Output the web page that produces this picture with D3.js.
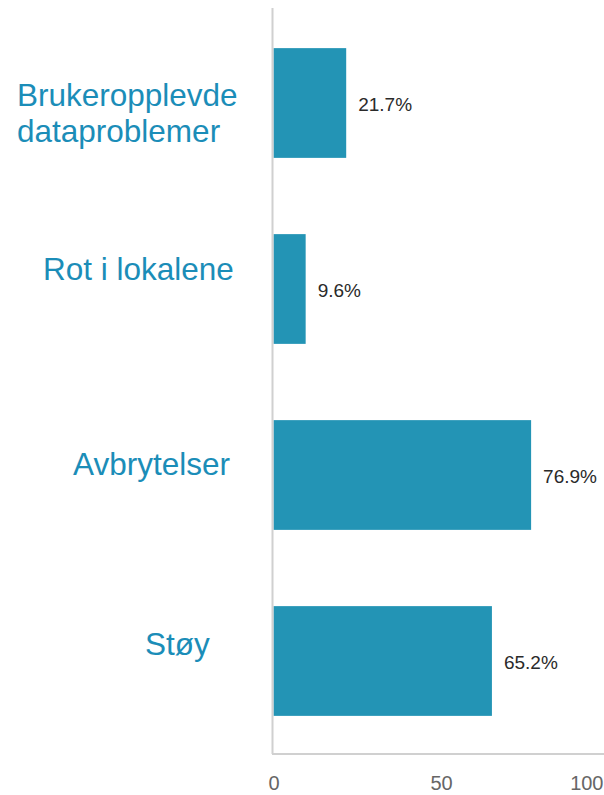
<!DOCTYPE html>
<html>
<head>
<meta charset="utf-8">
<script src="https://cdn.jsdelivr.net/npm/d3@7"></script>
<style>
  html, body { margin: 0; padding: 0; background: #fff; }
  svg { display: block; font-family: "Liberation Sans", Arial, sans-serif; }
</style>
</head>
<body>
<svg id="chart" width="604" height="795"></svg>
<script>
// ---- data ----
const categories = ["Brukeropplevde dataproblemer", "Rot i lokalene", "Avbrytelser", "Støy"];
const categoryLines = [["Brukeropplevde", "dataproblemer"], ["Rot i lokalene"], ["Avbrytelser"], ["Støy"]];
const values = [21.7, 9.6, 76.9, 65.2];
const valueLabels = ["21.7%", "9.6%", "76.9%", "65.2%"];
const tickValues = [0, 50, 100];

// ---- layout (manually placed category labels, as in the original) ----
const labelLeft = [17, 43, 73, 145];
const labelBaselineOffset = [3, -9, 0, -6];

const svg = d3.select("#chart");
const W = 604, H = 795;

const x = d3.scaleLinear().domain([0, 100]).range([273.5, 608.5]);
const y = d3.scaleBand().domain(categories).range([10, 754])
  .paddingInner(0.41).paddingOuter(0.205);

// bars
svg.append("g").selectAll("rect").data(categories).join("rect")
  .attr("x", x(0))
  .attr("y", d => y(d))
  .attr("width", (d, i) => x(values[i]) - x(0))
  .attr("height", y.bandwidth())
  .attr("fill", "#2394b5");

// axis lines
svg.append("line")
  .attr("x1", 272.5).attr("x2", 272.5)
  .attr("y1", 8).attr("y2", 754)
  .attr("stroke", "#d0d0d0").attr("stroke-width", 2);
svg.append("line")
  .attr("x1", 272).attr("x2", W)
  .attr("y1", 754).attr("y2", 754)
  .attr("stroke", "#d0d0d0").attr("stroke-width", 2);

// x axis tick labels
const xAxis = d3.axisBottom(x).tickValues(tickValues).tickSize(0).tickPadding(0);
const gx = svg.append("g").attr("transform", "translate(0,772)").call(xAxis);
gx.select(".domain").remove();
gx.selectAll("text")
  .attr("y", 0).attr("dy", "0.9em")
  .attr("font-size", 20)
  .attr("font-family", "Liberation Sans, Arial, sans-serif")
  .attr("fill", "#666");
// keep the last label inside the picture
gx.selectAll(".tick").filter(d => x(d) > W - 20).select("text")
  .attr("text-anchor", "end")
  .attr("x", d => (W - 1) - x(d));

// value labels
svg.append("g").selectAll("text").data(categories).join("text")
  .attr("x", (d, i) => x(values[i]) + 12)
  .attr("y", d => y(d) + y.bandwidth() / 2)
  .attr("dy", "0.42em")
  .attr("font-size", 19)
  .attr("fill", "#2a2a2a")
  .text((d, i) => valueLabels[i]);

// category labels
const cg = svg.append("g");
categories.forEach((c, i) => {
  const t = cg.append("text")
    .attr("x", labelLeft[i])
    .attr("y", y(c) + y.bandwidth() / 2 + labelBaselineOffset[i])
    .attr("font-size", 31.5)
    .attr("fill", "#1b8db8");
  categoryLines[i].forEach((line, j) => {
    t.append("tspan")
      .attr("x", labelLeft[i])
      .attr("dy", j === 0 ? 0 : 36)
      .text(line);
  });
});
</script>
</body>
</html>
